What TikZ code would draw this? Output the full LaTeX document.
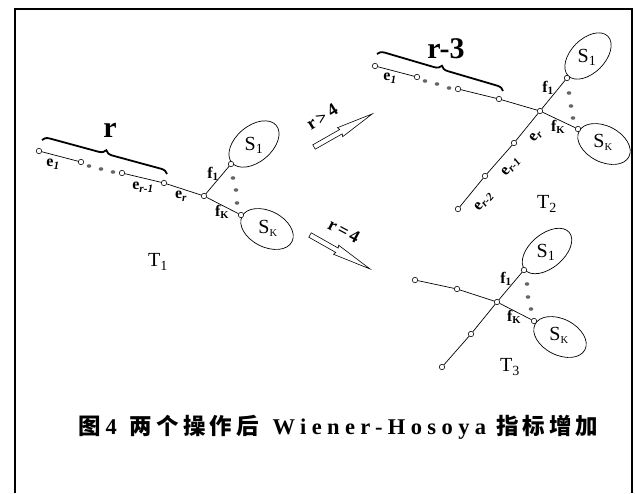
\documentclass[tikz,border=0pt]{standalone}
\usepackage{fontspec}
\setmainfont{Liberation Serif}
\newfontfamily\cjkfont{Noto Sans CJK SC}[LetterSpace=18]
\newfontfamily\capfont{Liberation Serif}[LetterSpace=24]
\usetikzlibrary{decorations.pathreplacing}
\newcommand{\subl}[2]{#1\textsubscript{#2}}
\newcommand{\kk}{{\fontsize{10.5}{10.5}\selectfont K}}
\tikzset{
  vtx/.style={circle, draw, fill=white, inner sep=0pt, minimum size=5.4pt, line width=0.6pt},
  edge/.style={line width=0.7pt},
  gdot/.style={fill=black!60},
  lab/.style={font=\fontsize{16}{16}\selectfont\bfseries, inner sep=0pt},
  big/.style={font=\fontsize{20}{20}\selectfont, inner sep=0pt},
  huge/.style={font=\fontsize{30}{30}\selectfont\bfseries, inner sep=0pt},
  arlab/.style={font=\fontsize{18}{18}\selectfont\bfseries, inner sep=0pt},
  brc/.style={decorate, decoration={brace, amplitude=7pt}, line width=1.8pt},
  ell/.style={line width=0.7pt},
  harrow/.style={line width=0.6pt, fill=white},
}
\begin{document}
\begin{tikzpicture}[x=1pt, y=-1pt]
\useasboundingbox (0,0) rectangle (635,493);
% frame
\draw[line width=1.3pt] (15,493) -- (15,9) -- (632,9) -- (632,493);

% ================= T1 =================
\draw[ell] (254,144) ellipse [x radius=29, y radius=18, rotate=40];
\draw[ell] (267,229) ellipse [x radius=28, y radius=18, rotate=-27];
\node[vtx] (a1) at (39,151) {};
\node[vtx] (a2) at (81,162) {};
\node[vtx] (a3) at (122,173) {};
\node[vtx] (a4) at (164,183) {};
\node[vtx] (ac) at (204,196) {};
\node[vtx] (af1) at (231,164) {};
\node[vtx] (afk) at (241,215) {};
\draw[edge] (a1) -- (a2);
\draw[edge] (a3) -- (a4);
\draw[edge] (a4) -- (ac);
\draw[edge] (ac) -- (af1);
\draw[edge] (ac) -- (afk);
\foreach \p in {(89,166),(101,169),(113,172),(233,178),(236,190),(237,203)}
  \fill[gdot] \p ellipse [x radius=2.3, y radius=1.8];
\draw[brc] (42,140) -- (167,174);
\node[huge] (r1) at (110,130) {r};
\node[lab] (le1) at (53,164) {\subl{e}{\itshape 1}};
\node[lab] (ler1) at (143,187) {\subl{e}{\itshape r-1}};
\node[lab] (ler) at (181,196) {\subl{e}{\itshape r}};
\node[lab] (lf1) at (213,174) {\subl{f}{1}};
\node[lab] (lfk) at (222,212) {\subl{f}{\kk}};
\node[big] (ls1) at (254,145) {\subl{S}{1}};
\node[big] (lsk) at (268,228) {\subl{S}{\kk}};
\node[big] (lt1) at (158,262) {\subl{T}{1}};

% ================= arrows =================
\begin{scope}[shift={(314,147)}, rotate=29.6]
  \draw[harrow] (0,-2.5) -- (31,-2.5) -- (30,-5.2) -- (67,0) -- (30,5.2) -- (31,2.5) -- (0,2.5) -- cycle;
\end{scope}
\node[arlab, rotate=32] (ar1) at (322,117) {r\,{>}\,4};
\begin{scope}[shift={(310,235)}, rotate=-29.5]
  \draw[harrow] (0,-2.5) -- (31,-2.5) -- (30,-5.2) -- (69,0) -- (30,5.2) -- (31,2.5) -- (0,2.5) -- cycle;
\end{scope}
\node[arlab, rotate=-28] (ar2) at (344,231) {r\,=\,4};

% ================= T2 =================
\draw[ell] (588,56) ellipse [x radius=28, y radius=17, rotate=45];
\draw[ell] (604,144) ellipse [x radius=28, y radius=18, rotate=-27];
\node[vtx] (b1) at (375,66) {};
\node[vtx] (b2) at (417,77) {};
\node[vtx] (b3) at (458,89) {};
\node[vtx] (b4) at (499,99) {};
\node[vtx] (bc) at (540,111) {};
\node[vtx] (bf1) at (567,78) {};
\node[vtx] (bfk) at (578,129) {};
\node[vtx] (bl1) at (514,143) {};
\node[vtx] (bl2) at (485,176) {};
\node[vtx] (bl3) at (458,209) {};
\draw[edge] (b1) -- (b2);
\draw[edge] (b3) -- (b4);
\draw[edge] (b4) -- (bc);
\draw[edge] (bc) -- (bf1);
\draw[edge] (bc) -- (bfk);
\draw[edge] (bc) -- (bl1);
\draw[edge] (bl1) -- (bl2);
\draw[edge] (bl2) -- (bl3);
\foreach \p in {(425,81),(437,84),(449,88),(569,93),(571,106),(573,118)}
  \fill[gdot] \p ellipse [x radius=2.3, y radius=1.8];
\draw[brc] (377,54) -- (503,91);
\node[huge] (r3) at (446,49) {r-3};
\node[lab] (me1) at (390,78) {\subl{e}{\itshape 1}};
\node[lab] (mf1) at (548,88) {\subl{f}{1}};
\node[lab] (mfk) at (558,127) {\subl{f}{\kk}};
\node[lab, rotate=50] (mer) at (536,136) {\subl{e}{\itshape r}};
\node[lab, rotate=50] (mer1) at (511,167) {\subl{e}{\itshape r-1}};
\node[lab, rotate=50] (mer2) at (484,202) {\subl{e}{\itshape r-2}};
\node[big] (ms1) at (587,57) {\subl{S}{1}};
\node[big] (msk) at (603,142) {\subl{S}{\kk}};
\node[big] (lt2) at (547,204) {\subl{T}{2}};

% ================= T3 =================
\draw[ell] (547,251) ellipse [x radius=29, y radius=17, rotate=40];
\draw[ell] (560,337) ellipse [x radius=28, y radius=18, rotate=-27];
\node[vtx] (c1) at (415,280) {};
\node[vtx] (c2) at (457,289) {};
\node[vtx] (cc) at (497,302) {};
\node[vtx] (cf1) at (524,270) {};
\node[vtx] (cfk) at (534,321) {};
\node[vtx] (cl1) at (471,334) {};
\node[vtx] (cl2) at (442,367) {};
\draw[edge] (c1) -- (c2);
\draw[edge] (c2) -- (cc);
\draw[edge] (cc) -- (cf1);
\draw[edge] (cc) -- (cfk);
\draw[edge] (cc) -- (cl1);
\draw[edge] (cl1) -- (cl2);
\foreach \p in {(527,284),(528,297),(531,309)}
  \fill[gdot] \p ellipse [x radius=2.3, y radius=1.8];
\node[lab] (nf1) at (506,279) {\subl{f}{1}};
\node[lab] (nfk) at (514,317) {\subl{f}{\kk}};
\node[big] (ns1) at (546,252) {\subl{S}{1}};
\node[big] (nsk) at (559,335) {\subl{S}{\kk}};
\node[big] (lt3) at (510,367) {\subl{T}{3}};

% ================= caption =================
\node[anchor=base west, inner sep=0pt, font=\fontsize{22.5}{22.5}\selectfont] (cap) at (78,434)
  {{\cjkfont\bfseries 图}\hspace{5pt}{\capfont\bfseries 4}\hspace{13pt}{\cjkfont\bfseries 两个操作后}\hspace{14pt}{\capfont\bfseries Wiener-Hosoya}\hspace{10pt}{\cjkfont\bfseries 指标增加}};
\end{tikzpicture}
\end{document}
